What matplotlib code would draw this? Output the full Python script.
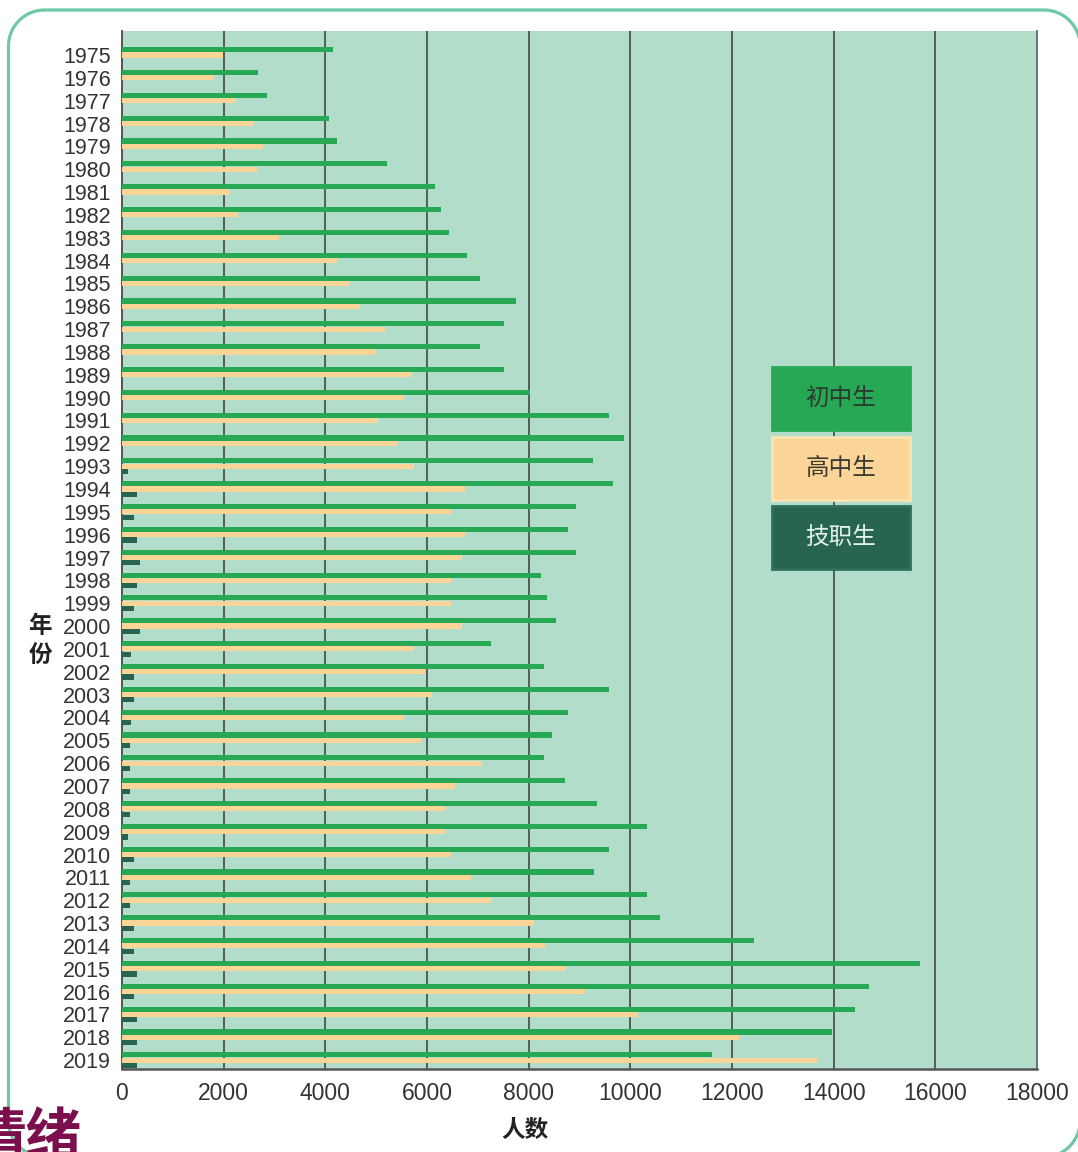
import numpy as np
import matplotlib
matplotlib.use('Agg')
import matplotlib.pyplot as plt
from matplotlib.patches import Rectangle

plt.rcParams['font.family'] = ['Liberation Sans', 'Noto Sans CJK SC', 'DejaVu Sans']

# data
years = list(range(1975, 2020))
junior = [4150, 2670, 2860, 4080, 4230, 5220, 6150, 6270, 6440, 6790,
          7040, 7750, 7510, 7040, 7510, 8030, 9580, 9880, 9270, 9650,
          8930, 8770, 8930, 8240, 8370, 8540, 7260, 8310, 9580, 8770,
          8460, 8310, 8710, 9340, 10320, 9580, 9280, 10320, 10580, 12440,
          15700, 14700, 14410, 13960, 11610]
senior = [1980, 1810, 2240, 2570, 2770, 2660, 2120, 2280, 3080, 4230,
          4470, 4680, 5170, 4970, 5700, 5540, 5040, 5400, 5740, 6740,
          6470, 6740, 6680, 6470, 6470, 6680, 5740, 5970, 6090, 5540,
          5890, 7090, 6550, 6350, 6350, 6470, 6860, 7270, 8110, 8330,
          8730, 9100, 10160, 12130, 13680]
voc_years = list(range(1993, 2020))
vocational = [120, 300, 230, 300, 350, 300, 230, 350, 175, 230,
              230, 175, 150, 150, 150, 150, 120, 230, 150, 150,
              230, 230, 300, 230, 300, 300, 300]

series_names = ['初中生', '高中生', '技职生']
colors = ['#27a855', '#fbd597', '#276452']
xticks = [0, 2000, 4000, 6000, 8000, 10000, 12000, 14000, 16000, 18000]

W, H = 1078, 1152
fig = plt.figure(figsize=(W / 100, H / 100), dpi=100)

# pixel-coordinate layer behind the chart: rounded frame
back = fig.add_axes([0, 0, 1, 1], zorder=0)
back.set_xlim(0, W)
back.set_ylim(H, 0)
back.axis('off')


def rounded_rect(x0, y0, x1, y1, r, n=30):
    t = np.linspace(0, np.pi / 2, n)
    xs, ys = [], []
    # corners: top-left, top-right, bottom-right, bottom-left (y down)
    for cx, cy, a0 in [(x0 + r, y0 + r, np.pi), (x1 - r, y0 + r, 1.5 * np.pi),
                       (x1 - r, y1 - r, 0), (x0 + r, y1 - r, 0.5 * np.pi)]:
        xs.extend(cx + r * np.cos(a0 + t))
        ys.extend(cy + r * np.sin(a0 + t))
    xs.append(xs[0])
    ys.append(ys[0])
    return xs, ys


fx, fy = rounded_rect(8.5, 10, 1080, 1157, 36)
back.plot(fx, fy, color='#6ccaa5', linewidth=2.3, solid_capstyle='round')
# cut-off heading at the bottom-left
back.text(-30, 1110, '情绪', color='#7b0f4d', fontsize=40, fontweight='bold',
          family=['Noto Sans CJK SC'], ha='left', va='top')

ax = fig.add_axes([122 / W, 1 - 1069 / H, (1037 - 122) / W, (1069 - 31) / H], zorder=1)
ax.set_facecolor('#b2ddcb')

pos = np.arange(len(years))
h = 0.225
off = 0.232
ax.barh(pos - off, junior, height=h, color=colors[0], zorder=3)
ax.barh(pos, senior, height=h, color=colors[1], zorder=3)
vpos = np.array([years.index(y) for y in voc_years])
ax.barh(vpos + off, vocational, height=h, color=colors[2], zorder=3)

ax.set_xlim(0, 18000)
ax.set_ylim(44.39, -1.05)
ax.set_yticks(pos)
ax.set_yticklabels([str(y) for y in years], fontsize=15.5, color='#333333')
ax.set_xticks(xticks)
ax.set_xticklabels([str(x) for x in xticks], fontsize=16.5, color='#333333')
ax.tick_params(axis='y', length=0, pad=8)
ax.tick_params(axis='x', length=0, pad=9)

ax.set_axisbelow(True)
ax.grid(axis='x', color='#3a3a3a', linewidth=1.1)
ax.grid(axis='y', visible=False)

ax.spines['top'].set_visible(False)
ax.spines['left'].set_color('#555555')
ax.spines['left'].set_linewidth(1.4)
ax.spines['bottom'].set_color('#555555')
ax.spines['bottom'].set_linewidth(1.8)
ax.spines['right'].set_color('#5c7d72')
ax.spines['right'].set_linewidth(1.4)

fig.text(40 / W, 1 - 641 / H, '年\n份', fontsize=17, fontweight='bold',
         family=['Noto Sans CJK SC'], ha='center', va='center',
         linespacing=1.3, color='#222222')
fig.text(525 / W, 1 - 1130 / H, '人数', fontsize=17, fontweight='bold',
         family=['Noto Sans CJK SC'], ha='center', va='center', color='#222222')

# legend boxes
box_tops = [367, 437, 506]
text_colors = ['#2b3a30', '#3a3a30', '#e4f2ea']
edge_colors = ['#27a855', '#fde3b0', '#2f6f5c']
leg = fig.add_axes([0, 0, 1, 1], zorder=2)
leg.set_xlim(0, W)
leg.set_ylim(H, 0)
leg.axis('off')
for name, c, tc, ec, top in zip(series_names, colors, text_colors, edge_colors, box_tops):
    leg.add_patch(Rectangle((772, top), 138, 63, facecolor=c, edgecolor=ec,
                            linewidth=2))
    leg.text(841, top + 31.5, name, fontsize=17, family=['Noto Sans CJK SC'],
             color=tc, ha='center', va='center')

fig.savefig('out.png', dpi=100)
